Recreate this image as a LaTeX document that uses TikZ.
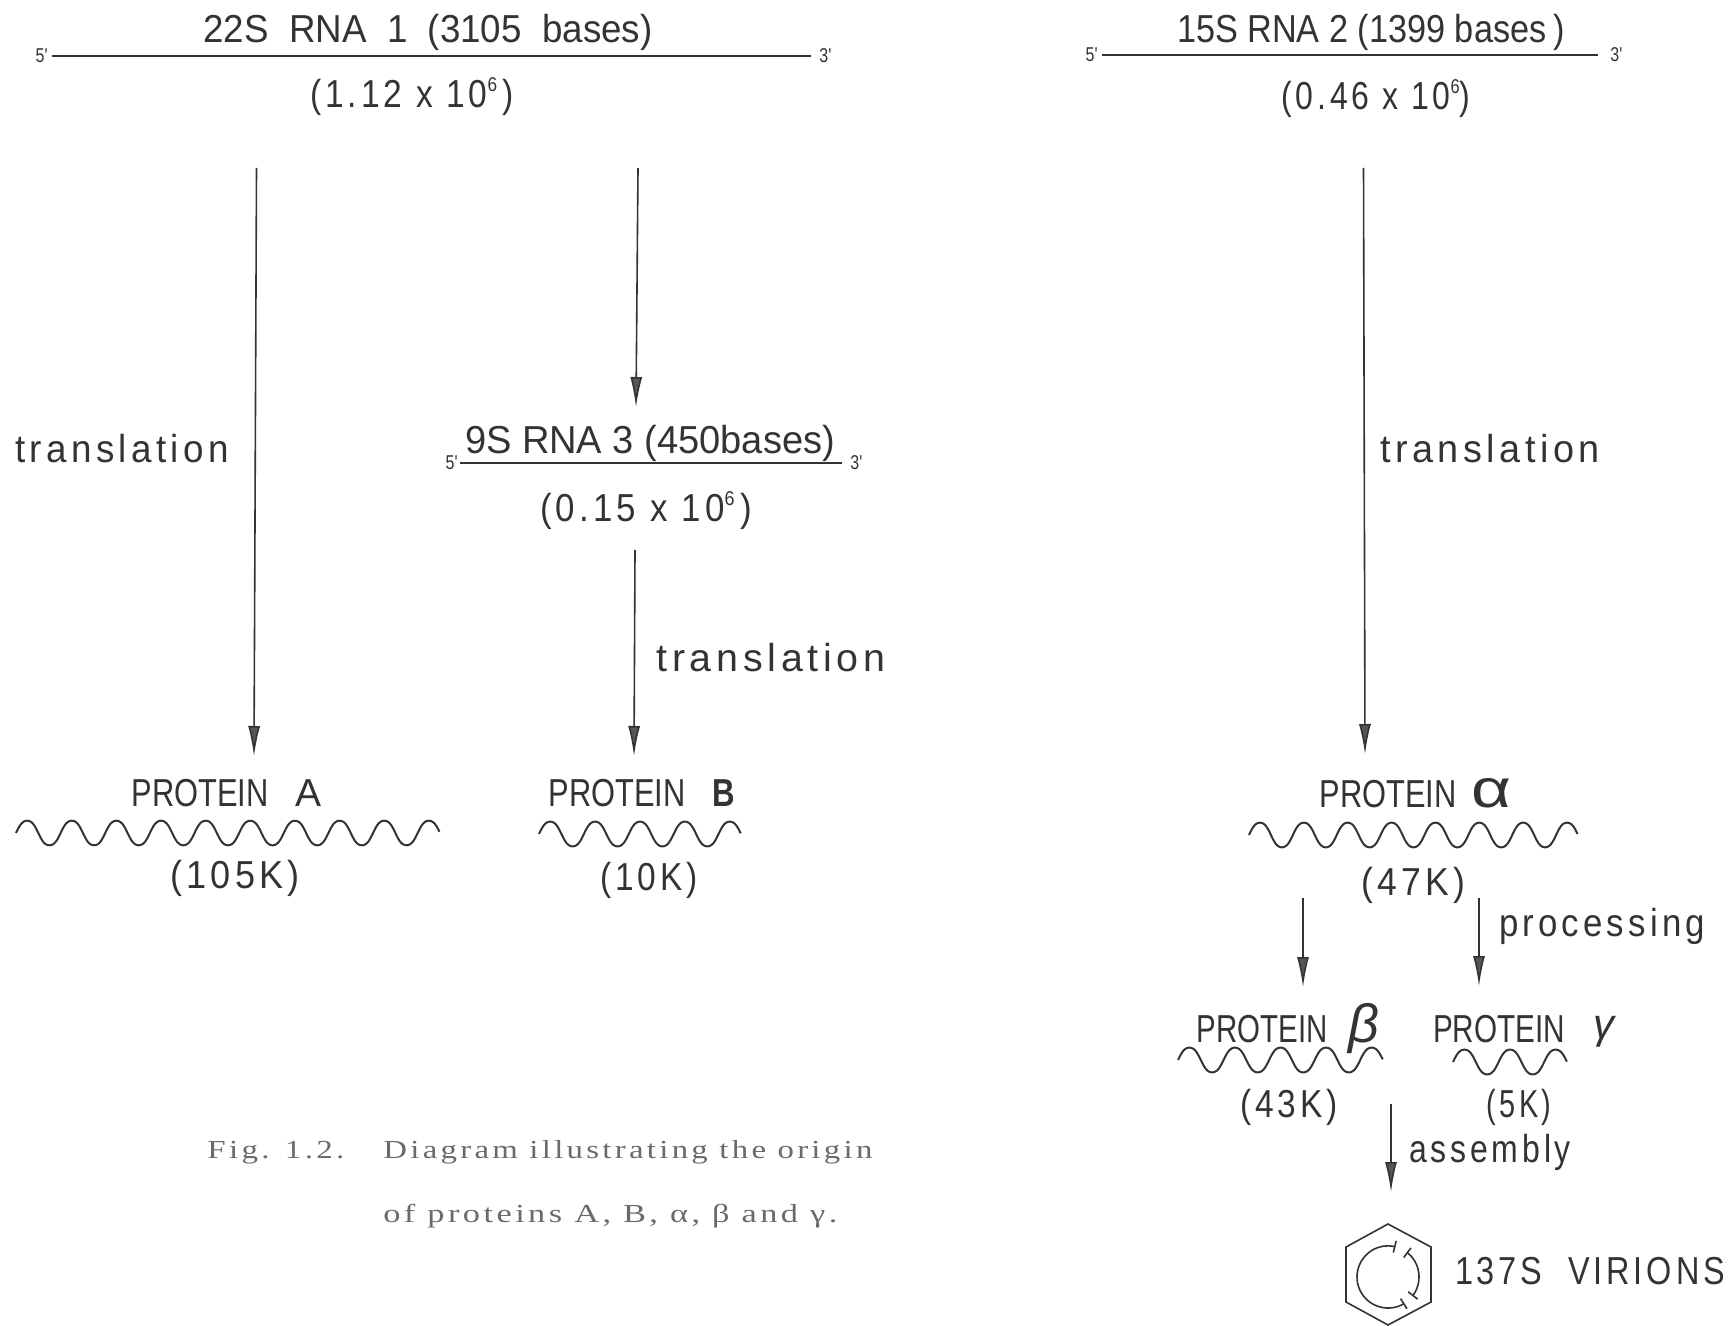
\documentclass[tikz,border=0pt]{standalone}
\usepackage{fontspec}
\usepackage{tikz}
\usetikzlibrary{positioning,arrows.meta,calc}
\newfontfamily\stencil[FakeStretch=0.8]{Liberation Sans}
\newfontfamily\spaced[LetterSpace=12]{Liberation Sans}
\newfontfamily\typed[LetterSpace=10]{Liberation Serif}
\newfontfamily\greek{Liberation Sans}
\newfontfamily\greekit{Liberation Sans Italic}
\definecolor{ink}{HTML}{333333}
\definecolor{head}{HTML}{555555}
\definecolor{faded}{HTML}{6A6A6A}
\newdimen\pxl
\pxl=0.5pt
% squeeze a label to a width in pixels, height kept
\newcommand{\fit}[2]{\resizebox{#1\pxl}{\height}{#2}}
\newcommand{\sixth}{\raisebox{8pt}{\fontsize{10}{10}\selectfont 6}}
\newcommand{\chainwave}[4]{\draw[chain] plot[smooth, domain=0:1, samples=161] ({#1+(#2-#1)*\x},{#3-13*(sin(180*#4*\x)+0.05*sin(540*#4*\x))});}

\begin{document}
\begin{tikzpicture}[
  x=0.5pt, y=-0.5pt,
  lettering/.style={font=\stencil\fontsize{19.5}{20}\selectfont, text=ink, anchor=base, inner sep=0pt},
  wide/.style={font=\spaced\fontsize{19.5}{20}\selectfont, text=ink, anchor=base, inner sep=0pt},
  endmark/.style={font=\stencil\fontsize{10}{10}\selectfont, text=ink, inner sep=0pt},
  caption/.style={font=\typed\fontsize{13}{14}\selectfont, text=faded, anchor=base west, inner sep=0pt},
  strand/.style={draw=ink, line width=1pt},
  flow/.style={draw=ink, line width=0.8pt, -{Latex[length=15pt,width=6pt,fill=head]}},
  chain/.style={draw=ink, line width=1pt},
  shell/.style={draw=ink, line width=0.8pt},
]
\useasboundingbox (0,0) rectangle (1734,1326);

% RNA 1
\coordinate (a5) at (52,55.7);
\coordinate (a3) at (811,55.7);
\draw[strand] (a5) -- (a3);
\node[endmark, left=2pt of a5] (a5mark) {5'};
\node[endmark, right=4pt of a3] (a3mark) {3'};
\node[lettering] (rnaA) at (428,43) {\fit{449}{22S\ \ RNA\ \ 1\ \ (3105\ \ bases)}};
\node[wide] (massA) at (412,108) {\fit{204}{(1.12 x 10\sixth\,)}};

% RNA 2
\coordinate (b5) at (1102,55);
\coordinate (b3) at (1598,55);
\draw[strand] (b5) -- (b3);
\node[endmark, left=2pt of b5] (b5mark) {5'};
\node[endmark, right=6pt of b3] (b3mark) {3'};
\node[lettering] (rnaB) at (1371,43) {\fit{388}{15S\ RNA\ 2\ (1399 bases\,)}};
\node[wide] (massB) at (1376,110) {\fit{189}{(0.46 x 10\sixth)}};

% RNA 3
\coordinate (c5) at (460,463);
\coordinate (c3) at (842,463);
\draw[strand] (c5) -- (c3);
\node[endmark, left=1pt of c5] (c5mark) {5'};
\node[endmark, right=4pt of c3] (c3mark) {3'};
\node[lettering] (rnaC) at (650,453) {\fit{370}{9S\ RNA 3 (450bases)}};
\node[wide] (massC) at (646,521) {\fit{212}{(0.15 x 10\sixth\,)}};

% arrows
\coordinate (f1) at (256.5,168);
\coordinate (t1) at (254,756);
\coordinate (f2) at (638,168);
\coordinate (t2) at (636,407);
\coordinate (f3) at (635,550);
\coordinate (t3) at (634,756);
\coordinate (f4) at (1363.5,168);
\coordinate (t4) at (1365,754);
\coordinate (f5) at (1303,898);
\coordinate (t5) at (1303,987);
\coordinate (f6) at (1479,898);
\coordinate (t6) at (1479,986);
\coordinate (f7) at (1391,1104);
\coordinate (t7) at (1391,1192);
\foreach \n in {1,...,7}
  \draw[flow] (f\n) -- (t\n);

\node[wide] (transA) at (122,462) {\fit{214}{translation}};
\node[wide] (transC) at (771,671) {\fit{229}{translation}};
\node[wide] (transB) at (1490,462) {\fit{220}{translation}};
\node[wide] (proc) at (1602,936) {\fit{206}{processing}};
\node[wide] (assem) at (1490,1162) {\fit{162}{assembly}};

% proteins
\node[lettering] (protA) at (200,806) {\fit{137}{PROTEIN}};
\node[lettering, base right=13pt of protA] (letA) {\fit{26}{A}};
\chainwave{16}{440}{833}{19}
\node[wide] (kdA) at (235,888) {\fit{130}{(105K)}};

\node[lettering] (protB) at (617,806) {\fit{137}{PROTEIN}};
\node[lettering, base right=13pt of protB] (letB) {\textbf{B}};
\chainwave{539}{741}{834}{9}
\node[wide] (kdB) at (649,890) {\fit{98}{(10K)}};

\node[lettering] (protAl) at (1388,807) {\fit{137}{PROTEIN}};
\node[lettering, base right=7pt of protAl] (letAl) {\greek\fontsize{27}{28}\selectfont\fit{40}{α}};
\chainwave{1249}{1578}{835}{15}
\node[wide] (kdAl) at (1413,895) {\fit{104}{(47K)}};

\node[lettering] (protBe) at (1262,1042) {\fit{131}{PROTEIN}};
\node[lettering, base right=10pt of protBe] (letBe) {\greekit\fontsize{27}{28}\selectfont β};
\chainwave{1178}{1383}{1060}{9}
\node[wide] (kdBe) at (1289,1117) {\fit{98}{(43K)}};

\node[lettering] (protGa) at (1499,1042) {\fit{132}{PROTEIN}};
\node[lettering, base right=14pt of protGa, yshift=2pt] (letGa) {\greekit\fontsize{21}{22}\selectfont γ};
\chainwave{1453}{1567}{1062}{5}
\node[wide] (kdGa) at (1519,1117) {\fit{65}{(5K)}};

% virion
\coordinate (virion) at (1388,1277);
\draw[shell] (1388,1224) -- (1431,1247) -- (1431,1302) -- (1388,1325)
  -- (1346,1302) -- (1346,1247) -- cycle;
\draw[shell, {Bar[width=6pt]}-{Bar[width=6pt]}] ([shift={(76:15.5pt)}]virion)
  arc[start angle=76, end angle=302, radius=15.5pt];
\draw[shell, {Bar[width=6pt]}-{Bar[width=6pt]}] ([shift={(53:15.5pt)}]virion)
  arc[start angle=53, end angle=-38, radius=15.5pt];
\node[wide] (virlabel) at (1590,1284) {\fit{270}{137S\ \ VIRIONS}};

% caption
\node[caption] (fign) at (207,1158) {\fit{137}{Fig. 1.2.}};
\node[caption] (capa) at (383,1158) {\fit{489}{Diagram illustrating the origin}};
\node[caption] (capb) at (383,1222) {\fit{454}{of proteins A, B, α, β and γ.}};

\end{tikzpicture}
\end{document}
